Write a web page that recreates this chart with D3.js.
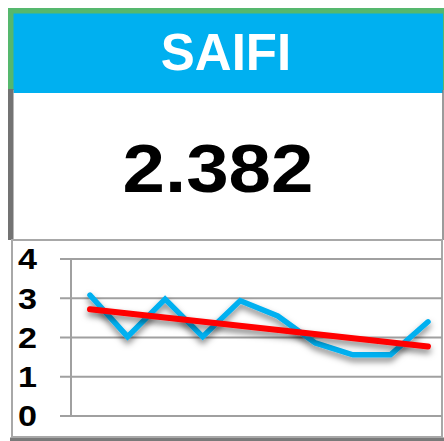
<!DOCTYPE html>
<html>
<head>
<meta charset="utf-8">
<script src="https://d3js.org/d3.v7.min.js"></script>
<style>
  body { margin: 0; background: #fff; }
  svg { display: block; font-family: "Liberation Sans", Arial, sans-serif; }
</style>
</head>
<body>
<svg id="card" width="444" height="441"></svg>
<script>
// data
const title = "SAIFI";
const kpiValue = "2.382";
const periods = [1, 2, 3, 4, 5, 6, 7, 8, 9, 10];
const saifi = [3.08, 2.02, 2.98, 2.02, 2.94, 2.55, 1.86, 1.56, 1.56, 2.40];
const trend = [2.72, 1.77]; // first and last period
const yTicks = [0, 1, 2, 3, 4];

const svg = d3.select("#card");

const defs = svg.append("defs");
const shadow = defs.append("filter").attr("id", "shadow")
    .attr("x", "-10%").attr("y", "-50%").attr("width", "120%").attr("height", "250%");
shadow.append("feDropShadow")
    .attr("dx", 0).attr("dy", 4).attr("stdDeviation", 3)
    .attr("flood-color", "#000").attr("flood-opacity", 0.5);

// header frame
svg.append("rect").attr("x", 8).attr("y", 8).attr("width", 436).attr("height", 82).attr("fill", "#55b86d");
svg.append("rect").attr("x", 13.5).attr("y", 13.5).attr("width", 429.5).attr("height", 79.5).attr("fill", "#00b0f0");
svg.append("text")
    .attr("x", 226).attr("y", 70)
    .attr("text-anchor", "middle")
    .attr("fill", "#fff")
    .style("font-weight", "bold")
    .style("font-size", "51px")
    .text(title);

// value panel
svg.append("rect").attr("x", 8).attr("y", 89).attr("width", 5.5).attr("height", 151).attr("fill", "#737373");
svg.append("line").attr("x1", 443).attr("x2", 443).attr("y1", 90).attr("y2", 240)
    .attr("stroke", "#7a7a7a").attr("stroke-width", 1.5);
svg.append("text")
    .attr("x", 218).attr("y", 192)
    .attr("text-anchor", "middle")
    .attr("fill", "#000")
    .attr("textLength", 191)
    .attr("lengthAdjust", "spacingAndGlyphs")
    .style("font-weight", "bold")
    .style("font-size", "68px")
    .text(kpiValue);

// chart panel
svg.append("rect").attr("x", 10).attr("y", 437.5).attr("width", 434).attr("height", 3.5).attr("fill", "#7a7a7a");
svg.append("rect").attr("x", 12).attr("y", 240).attr("width", 430).attr("height", 197)
    .attr("fill", "#fff").attr("stroke", "#a8a8a8").attr("stroke-width", 2);

const x = d3.scalePoint().domain(periods).range([90, 428]);
const y = d3.scaleLinear().domain([0, 4]).range([416, 259]);

const grid = svg.append("g");
grid.selectAll("line")
    .data(yTicks)
    .join("line")
    .attr("x1", 60).attr("x2", 442)
    .attr("y1", d => y(d)).attr("y2", d => y(d))
    .attr("stroke", "#a0a0a0").attr("stroke-width", 2);

grid.append("line")
    .attr("x1", 71).attr("x2", 71)
    .attr("y1", y(4)).attr("y2", y(0))
    .attr("stroke", "#a0a0a0").attr("stroke-width", 2);

svg.append("g").selectAll("text")
    .data(yTicks)
    .join("text")
    .attr("x", 18).attr("y", d => y(d))
    .attr("dy", "0.36em")
    .attr("textLength", 19)
    .attr("lengthAdjust", "spacingAndGlyphs")
    .style("font-weight", "bold")
    .style("font-size", "29px")
    .attr("fill", "#000")
    .text(d => d);

const line = d3.line()
    .x((d, i) => x(periods[i]))
    .y(d => y(d));

svg.append("path")
    .datum(saifi)
    .attr("d", line)
    .attr("fill", "none")
    .attr("stroke", "#00b0f0")
    .attr("stroke-width", 5.5)
    .attr("stroke-linejoin", "miter")
    .attr("stroke-linecap", "round")
    .attr("filter", "url(#shadow)");

svg.append("line")
    .attr("x1", x(periods[0])).attr("y1", y(trend[0]))
    .attr("x2", x(periods[periods.length - 1])).attr("y2", y(trend[1]))
    .attr("stroke", "#ff0000")
    .attr("stroke-width", 6)
    .attr("stroke-linecap", "round")
    .attr("filter", "url(#shadow)");
</script>
</body>
</html>
